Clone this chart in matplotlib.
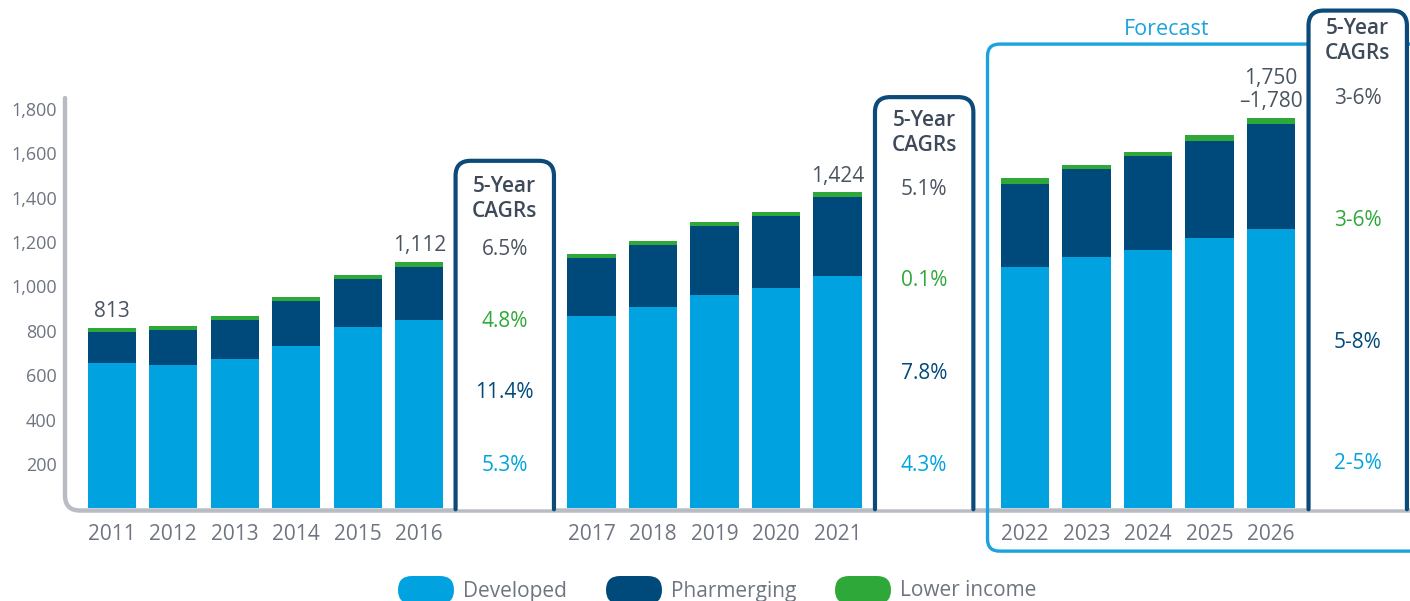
import matplotlib
matplotlib.use("Agg")
import matplotlib.pyplot as plt
from matplotlib.path import Path
from matplotlib.patches import PathPatch, FancyBboxPatch
from matplotlib.transforms import IdentityTransform

plt.rcParams['font.family'] = ['Open Sans', 'DejaVu Sans']

# ---------------- data ----------------
years = ["2011", "2012", "2013", "2014", "2015", "2016",
         "2017", "2018", "2019", "2020", "2021",
         "2022", "2023", "2024", "2025", "2026"]
developed = [654, 645, 672, 731, 816, 849,
             867, 909, 962, 995, 1046,
             1088, 1133, 1165, 1218, 1259]
pharmerging = [141, 159, 177, 204, 218, 238,
               262, 278, 311, 323, 356,
               374, 397, 423, 438, 474]
lower_income = [18, 18, 18, 18, 18, 25,
                18, 18, 18, 18, 22,
                27, 18, 18, 27, 27]
total_labels = ["813", "", "", "", "", "1,112",
                "", "", "", "", "1,424",
                "", "", "", "", "1,750\n\u20131,780"]
series_names = ["Developed", "Pharmerging", "Lower income"]
y_ticks = [200, 400, 600, 800, 1000, 1200, 1400, 1600, 1800]

cagr_header = ["5-Year", "CAGRs"]
cagr_total = ["6.5%", "5.1%", "3-6%"]
cagr_lower = ["4.8%", "0.1%", "3-6%"]
cagr_pharm = ["11.4%", "7.8%", "5-8%"]
cagr_dev = ["5.3%", "4.3%", "2-5%"]
forecast_label = "Forecast"

# ---------------- style ----------------
C_DEV = "#00a3e0"
C_PHA = "#00497b"
C_LOW = "#2fa83a"
C_BOX = "#0b4a79"
C_FC = "#1ba3de"
C_AXIS = "#b9bdc3"
C_TICK = "#6e7581"
C_DARK = "#4a5461"
C_HEAD = "#3e4a59"

W, H = 1410, 601
fig = plt.figure(figsize=(W / 100, H / 100), dpi=100)
ax = fig.add_axes([65 / W, 92.7 / H, 1345 / W, 508.3 / H])
ax.set_xlim(-0.761, 21.11)
ax.set_ylim(0, 2290.7)
for s in ax.spines.values():
    s.set_visible(False)

# layout: bar positions by group
group_sizes = [6, 5, 5]
group_starts = [0.0, 7.8, 14.85]
xpos = []
for st, n in zip(group_starts, group_sizes):
    xpos += [st + i for i in range(n)]
box_centers = [xpos[5] + 1.39, xpos[10] + 1.41, xpos[15] + 1.41]
box_tops = [1566, 1853, 2243]
header_y = [(1449, 1337), (1749, 1637), (2162, 2050)]
row_y = [(1165, 841, 520, 195), (1438, 1026, 608, 195), (1849, 1297, 745, 200)]

bw = 0.785
ax.bar(xpos, developed, bw, color=C_DEV, zorder=2)
ax.bar(xpos, pharmerging, bw, bottom=developed, color=C_PHA, zorder=2)
bottom3 = [d + p for d, p in zip(developed, pharmerging)]
ax.bar(xpos, lower_income, bw, bottom=bottom3, color=C_LOW, zorder=2)
totals = [a + b for a, b in zip(bottom3, lower_income)]

for x, t, lab in zip(xpos, totals, total_labels):
    if lab:
        nl = lab.count("\n")
        ax.annotate(lab, xy=(x, t), xytext=(0, 11.5 + nl * 8.5), textcoords="offset points",
                    ha="center", va="center", fontsize=15, color=C_DARK,
                    linespacing=1.1, zorder=5)

ax.set_yticks(y_ticks, [f"{v:,}" for v in y_ticks])
ax.tick_params(axis="y", length=0, pad=6, labelsize=13, labelcolor=C_TICK)
ax.set_xticks(xpos, years)
ax.tick_params(axis="x", length=0, pad=11, labelsize=15, labelcolor=C_TICK)

ID = IdentityTransform()


def disp(x, y):
    return ax.transData.transform((x, y))


# gray axis line with rounded corner
x_ax, y_top = disp(-0.761, 1849)
_, y_h = disp(0, -10)
r = 15
verts = [(x_ax, y_top), (x_ax, y_h + r), (x_ax, y_h), (x_ax + r, y_h), (W + 10, y_h)]
codes = [Path.MOVETO, Path.LINETO, Path.CURVE3, Path.CURVE3, Path.LINETO]
ax.add_patch(PathPatch(Path(verts, codes), transform=ID, fill=False, edgecolor=C_AXIS,
                       lw=3.2, capstyle="round", clip_on=False, zorder=3))

# forecast box
fx0, fy0 = disp(xpos[11] - 0.61, -193)
_, fy1 = disp(0, 2092)
ax.add_patch(FancyBboxPatch((fx0, fy0), W + 60 - fx0, fy1 - fy0,
                            boxstyle="round,pad=0,rounding_size=12", transform=ID,
                            fill=False, edgecolor=C_FC, lw=2.4, clip_on=False, zorder=3))
ax.text(17.16, 2160, forecast_label, ha="center", va="center", fontsize=15.5,
        color=C_FC, zorder=6)

# CAGR boxes (open at the bottom)
half = 0.8
for i, cx in enumerate(box_centers):
    xl, yt = disp(cx - half, box_tops[i])
    xr, yb = disp(cx + half, 0)
    yb = yb - 1
    rr = 15
    verts = [(xl, yb), (xl, yt - rr), (xl, yt), (xl + rr, yt), (xr - rr, yt),
             (xr, yt), (xr, yt - rr), (xr, yb)]
    codes = [Path.MOVETO, Path.LINETO, Path.CURVE3, Path.CURVE3, Path.LINETO,
             Path.CURVE3, Path.CURVE3, Path.LINETO]
    ax.add_patch(PathPatch(Path(verts, codes), transform=ID, facecolor="white",
                           edgecolor=C_BOX, lw=3.0, capstyle="round", clip_on=False, zorder=4))
    for txt, yy in zip(cagr_header, header_y[i]):
        ax.text(cx, yy, txt, ha="center", va="center", fontsize=15, fontweight="semibold",
                color=C_HEAD, zorder=6)
    vals = [cagr_total[i], cagr_lower[i], cagr_pharm[i], cagr_dev[i]]
    cols = [C_DARK, C_LOW, C_PHA, C_DEV]
    for txt, yy, col in zip(vals, row_y[i], cols):
        ax.text(cx, yy, txt, ha="center", va="center", fontsize=15, color=col, zorder=6)

# legend (pill markers)
leg_cols = [C_DEV, C_PHA, C_LOW]
pill_x = [398, 606, 835]
for name, col, px in zip(series_names, leg_cols, pill_x):
    fig.patches.append(FancyBboxPatch((px, H - 604), 56, 28,
                                      boxstyle="round,pad=0,rounding_size=14",
                                      transform=ID, facecolor=col, edgecolor="none",
                                      figure=fig))
    fig.text((px + 65) / W, (H - 591) / H, name, ha="left", va="center",
             fontsize=15, color=C_TICK)

fig.savefig("out.png", dpi=100)
